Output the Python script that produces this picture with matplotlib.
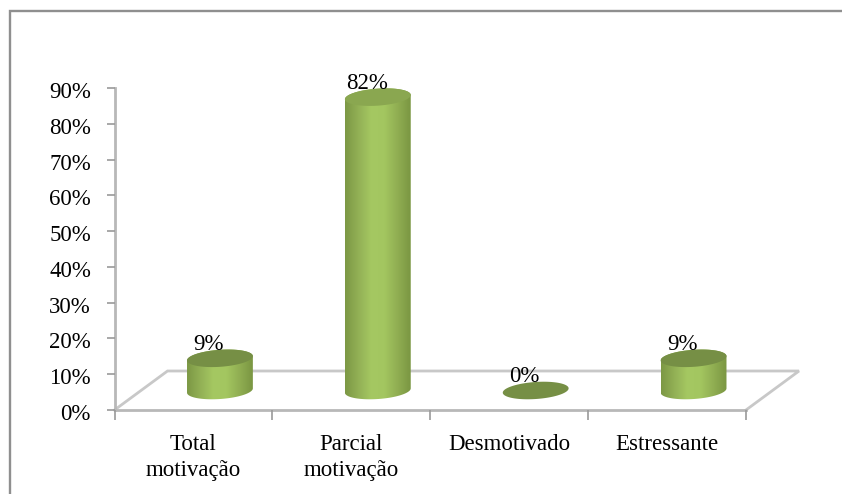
import numpy as np
import matplotlib
matplotlib.use('Agg')
import matplotlib.pyplot as plt
from matplotlib.colors import LinearSegmentedColormap
from matplotlib.lines import Line2D
from matplotlib.patches import PathPatch
from matplotlib.path import Path
from matplotlib.transforms import ScaledTranslation

# ---------- DATA ----------
categories = ["Total\nmotivação", "Parcial\nmotivação", "Desmotivado", "Estressante"]
values = [9, 82, 0, 9]
y_ticks = [0, 10, 20, 30, 40, 50, 60, 70, 80, 90]

W, H = 842, 494
plt.rcParams['font.family'] = ['Liberation Serif', 'DejaVu Serif']

fig = plt.figure(figsize=(W / 100, H / 100), dpi=100)

# frame: only the top and left edges are inside the picture
fig.add_artist(Line2D([9.5 / W, 9.5 / W, 1], [0, 1 - 11 / H, 1 - 11 / H], color='#8f8f8f',
                      linewidth=1.7, transform=fig.transFigure, solid_joinstyle='miter'))

# plot area in pixels
left, right, top, bottom = 114.5, 746.0, 88.0, 410.0
ax = fig.add_axes([left / W, 1 - bottom / H, (right - left) / W, (bottom - top) / H])
ax.set_xlim(-0.5, 3.5)
ax.set_ylim(0, 90)
ax.patch.set_alpha(0)

sx = (right - left) / 4
sy = (bottom - top) / 90

# depth of the floor
depth_x = 53 / sx
depth_y = 39 / sy
floor_x = [-0.5, -0.5 + depth_x, 3.5 + depth_x, 3.5]
floor_y = [0, depth_y, depth_y, 0]
ax.plot(floor_x, floor_y, color='#c8c8c8', linewidth=2, clip_on=False, zorder=1, solid_joinstyle='miter')

for side in ['top', 'right']:
    ax.spines[side].set_visible(False)
for side in ['left', 'bottom']:
    ax.spines[side].set_color('#b8b8b8')
    ax.spines[side].set_linewidth(2)
    ax.spines[side].set_zorder(1)

ax.set_yticks(y_ticks)
ax.set_yticklabels([f"{t}%" for t in y_ticks])
ax.set_xticks([-0.5, 0.5, 1.5, 2.5, 3.5])
ax.set_xticklabels([])
ax.tick_params(axis='y', length=6, width=1.2, color='#9a9a9a', labelsize=16.5, pad=11, direction='out')
ax.tick_params(axis='x', length=7, width=1.2, color='#9a9a9a', direction='out')

# tick labels sit a little below their ticks
shift_down = ScaledTranslation(0, -2 / 100, fig.dpi_scale_trans)
for label in ax.get_yticklabels():
    label.set_transform(label.get_transform() + shift_down)

for i, name in enumerate(categories):
    ax.text(i, -6.7, name, ha='center', va='top', fontsize=16.5, linespacing=1.32, color='black')

# ---------- CYLINDERS ----------
body_cmap = LinearSegmentedColormap.from_list(
    'body', ['#7c9845', '#92b055', '#a5c862', '#a3c660', '#90ae52', '#7a9642'])
rx, ry = 33.0, 8.5
tilt = np.radians(4)


def ellipse_xy(xc, yc, t):
    px = rx * np.cos(t) * np.cos(tilt) - ry * np.sin(t) * np.sin(tilt)
    py = rx * np.cos(t) * np.sin(tilt) + ry * np.sin(t) * np.cos(tilt)
    return xc + px / sx, yc + py / sy


for i, val in enumerate(values):
    xc = i + depth_x / 2
    base = depth_y / 2
    level = base + val

    if val > 0:
        tb = np.linspace(np.pi, 2 * np.pi, 60)
        tt = np.linspace(0, np.pi, 60)
        bx, by = ellipse_xy(xc, base, tb)
        ux, uy = ellipse_xy(xc, level, tt)
        verts = np.column_stack([np.r_[bx, ux], np.r_[by, uy]])
        clip = PathPatch(Path(verts), facecolor='none', edgecolor='none', transform=ax.transData)
        ax.add_patch(clip)
        grad = np.linspace(0, 1, 128).reshape(1, -1)
        im = ax.imshow(grad, cmap=body_cmap, aspect='auto', zorder=3, interpolation='bilinear',
                       extent=[xc - rx / sx, xc + rx / sx, base - 3, level + 3])
        im.set_clip_path(clip)

    t = np.linspace(0, 2 * np.pi, 120)
    ex, ey = ellipse_xy(xc, level, t)
    ax.fill(ex, ey, color='#768f45' if val != 82 else '#8aa750', linewidth=0, zorder=4, clip_on=False)

    ax.text(xc - 11 / sx, level + 2.4, f"{val}%", ha='center', va='baseline',
            fontsize=16.5, color='black', zorder=5, clip_on=False)

# imshow resets the limits
ax.set_xlim(-0.5, 3.5)
ax.set_ylim(0, 90)

fig.savefig('out.png', dpi=100)
